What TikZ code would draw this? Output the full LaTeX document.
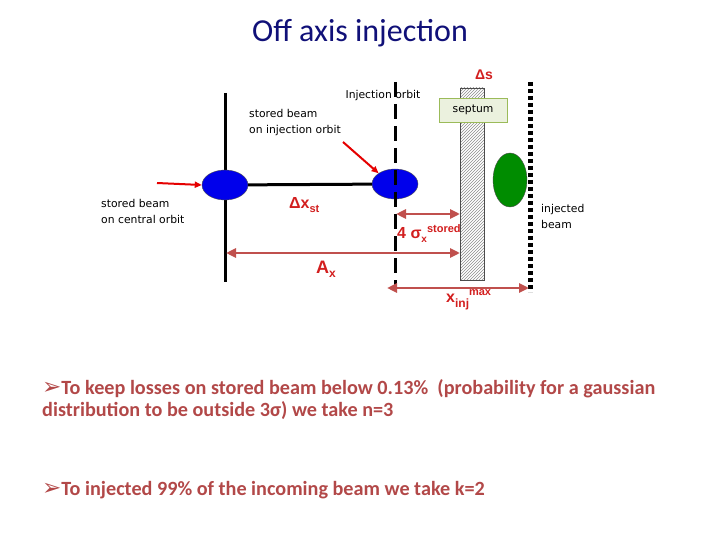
\documentclass[tikz,border=0pt]{standalone}
\usepackage{fontspec}
\setmainfont{Carlito}
\newfontfamily\labelfont{DejaVu Sans}
\newfontfamily\symfont{DejaVu Sans}
\newfontfamily\arialfont{Liberation Sans}
\usetikzlibrary{shapes.geometric,patterns,arrows.meta}
\definecolor{titleblue}{RGB}{16,16,120}
\definecolor{dimred}{RGB}{192,80,77}
\definecolor{lblred}{RGB}{210,30,30}
\definecolor{textred}{RGB}{178,72,72}
\definecolor{septumfill}{RGB}{235,241,222}
\definecolor{septumedge}{RGB}{155,187,89}
\definecolor{beamblue}{RGB}{0,0,235}
\definecolor{beamgreen}{RGB}{0,140,0}
\tikzset{
  beam/.style={ellipse,draw=black!70,fill=beamblue,minimum width=46pt,minimum height=30pt,inner sep=0pt},
  dimarrow/.style={draw=dimred,line width=2.5pt,{Triangle[length=10pt,width=9pt]}-{Triangle[length=10pt,width=9pt]}},
  injarrow/.style={draw=red!90!black,line width=2pt,-{Triangle[length=7pt,width=6pt]}},
  smalllabel/.style={font=\labelfont\fontsize{10.8}{16}\selectfont,align=left,inner sep=0pt},
  redlabel/.style={text=lblred,font=\arialfont\bfseries\fontsize{16}{18}\selectfont,inner sep=0pt},
  bullettext/.style={anchor=west,text=textred,font=\bfseries\fontsize{20.2}{22}\selectfont,inner sep=0pt}
}

\begin{document}
\begin{tikzpicture}[x=1pt,y=-1pt]
  \useasboundingbox (0,0) rectangle (720,540);
  % title
  \node[text=titleblue,font=\fontsize{32}{36}\selectfont] (title) at (360,33) {Off axis injection};
  % orbits
  \coordinate (c top) at (225,93);
  \coordinate (c bottom) at (225,282);
  \draw[line width=3pt] (c top) -- (c bottom);
  \node[beam] (stored) at (225,185) {};
  \node[beam] (injst) at (395,184) {};
  \draw[line width=3pt] (stored) -- (injst);
  \coordinate (i top) at (395,82);
  \coordinate (i bottom) at (395,286);
  \draw[line width=3pt,dash pattern=on 15pt off 7pt] (i top) -- (i bottom);
  % septum
  \node[draw=black!70,pattern=north east lines,pattern color=black!45,minimum width=24pt,minimum height=192pt,inner sep=0pt] (septum) at (472,184) {};
  \node[draw=septumedge,fill=septumfill,minimum width=68pt,minimum height=24pt,inner sep=0pt,font=\labelfont\fontsize{10.8}{12}\selectfont] (septumbox) at (473,110) {septum};
  \node[redlabel,font=\arialfont\bfseries\fontsize{14}{16}\selectfont] (ds) at (484,75) {Δs};
  % injected beam
  \node[ellipse,draw=black!70,fill=beamgreen,minimum width=34pt,minimum height=54pt,inner sep=0pt] (injected) at (510,180) {};
  \coordinate (w top) at (530,82);
  \coordinate (w bottom) at (530,292);
  \draw[line width=5pt,dash pattern=on 4pt off 3pt] (w top) -- (w bottom);
  % labels
  \node[smalllabel,anchor=center] (injlbl) at (383,96) {Injection orbit};
  \node[smalllabel,anchor=west] (stinj) at (249,123) {stored beam\\on injection orbit};
  \node[smalllabel,anchor=west] (stcen) at (101,211) {stored beam\\on central orbit};
  \node[smalllabel,anchor=west] (injbeam) at (541,216) {injected\\beam};
  % arrows
  \coordinate (a start) at (157,183);
  \draw[injarrow] (a start) -- (stored.west);
  \coordinate (b start) at (343,142);
  \draw[injarrow] (b start) -- (injst.north west);
  \coordinate (sig left) at (396,214);
  \coordinate (sig right) at (460,214);
  \draw[dimarrow] (sig left) -- (sig right);
  \coordinate (ax left) at (226,253);
  \coordinate (ax right) at (460,253);
  \draw[dimarrow] (ax left) -- (ax right);
  \coordinate (xm left) at (387,288);
  \coordinate (xm right) at (529,288);
  \draw[dimarrow] (xm left) -- (xm right);
  % dimension labels
  \node[redlabel,anchor=west] (dxst) at (289,205) {Δx\raisebox{-4pt}{\fontsize{11}{12}\selectfont st}};
  \node[redlabel,anchor=west] (sig) at (397,234) {4 σ\raisebox{-4pt}{\fontsize{10}{10}\selectfont x}\raisebox{6pt}{\fontsize{11}{12}\selectfont stored}};
  \node[redlabel,anchor=west,font=\arialfont\bfseries\fontsize{18}{20}\selectfont] (ax) at (316,269) {A\raisebox{-4pt}{\fontsize{12}{12}\selectfont x}};
  \node[redlabel,anchor=west] (xinj) at (446,300) {x\raisebox{-5pt}{\fontsize{12}{12}\selectfont inj}\raisebox{7pt}{\fontsize{11}{12}\selectfont max}};
  % conclusions
  \node[bullettext] (line1) at (42,389) {{\symfont\mdseries\fontsize{23}{22}\selectfont ➢}To keep losses on stored beam below 0.13\%\ \ (probability for a gaussian};
  \node[bullettext] (line2) at (42,411) {distribution to be outside 3σ) we take n=3};
  \node[bullettext] (line3) at (42,490) {{\symfont\mdseries\fontsize{23}{22}\selectfont ➢}To injected 99\% of the incoming beam we take k=2};
\end{tikzpicture}
\end{document}
